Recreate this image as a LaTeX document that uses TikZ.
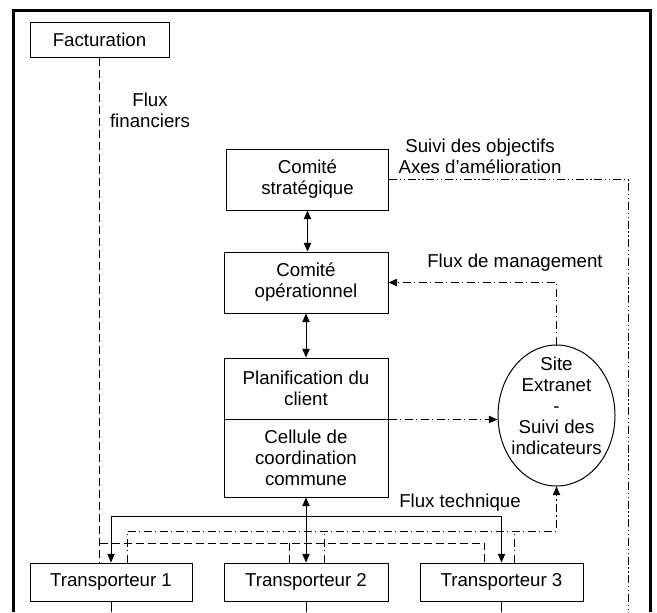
\documentclass[tikz,border=0pt]{standalone}
\usepackage{fontspec}
\setmainfont{Liberation Sans}
\usetikzlibrary{arrows.meta, shapes.geometric}

\begin{document}
\begin{tikzpicture}[x=0.75pt, y=-0.75pt, line width=0.75pt,
    font=\fontsize{14}{15.75}\selectfont,
    >={Triangle[length=6.5pt,width=5.5pt]},
    boite/.style={draw, align=center, inner sep=0pt, minimum height=45.75pt},
    transp/.style={boite, minimum height=28.5pt},
    financier/.style={dash pattern=on 6pt off 3pt},
    gestion/.style={dash pattern=on 6pt off 2.5pt on 1pt off 2.5pt},
    pilotage/.style={dash pattern=on 6pt off 2pt on 1pt off 2pt on 1pt off 2pt}]
      \useasboundingbox (0,0) rectangle (657,612);

      % Draw outer frame
      \draw[line width=2.25pt] (13,612) -- (13,10) -- (650,10) -- (650,612);

      % Boxes
      \node[boite, minimum width=104.25pt, minimum height=26.25pt] (factu) at (99.5,39.5) {Facturation};
      \node[boite, minimum width=121.5pt] (strat) at (307.5,179.5) {Comité\\stratégique};
      \node[boite, minimum width=123pt] (ope) at (306,282.5) {Comité\\opérationnel};
      \node[boite, minimum width=123pt] (planif) at (306,388.5) {Planification du\\client};
      \node[boite, minimum width=123pt, minimum height=58.5pt] (cellule) at (306,458) {Cellule de\\coordination\\commune};
      \node[transp, minimum width=121.5pt] (t1) at (111,582) {Transporteur 1};
      \node[transp, minimum width=123pt] (t2) at (306,582) {Transporteur 2};
      \node[transp, minimum width=122.25pt] (t3) at (501.5,582) {Transporteur 3};

      % Extranet ellipse
      \node[draw, ellipse, inner sep=0pt, minimum width=87.75pt, minimum height=105.75pt] (extranet) at (556.5,415.5) {};
      \node[align=center] (extranettxt) at (556.5,405.5) {Site\\Extranet\\-\\Suivi des\\indicateurs};

      % Labels
      \node[align=center] (lblfin) at (150,110.5) {Flux\\financiers};
      \node[align=center] (lblobj) at (480,156) {Suivi des objectifs\\Axes d'amélioration};
      \node (lblman) at (515,263) {Flux de management};
      \node (lbltech) at (460,503) {Flux technique};

      % Helper coordinates
      \coordinate (tech) at (0,516);
      \coordinate (indic) at (0,531);
      \coordinate (fact) at (0,543);
      \coordinate (droite) at (628,612);
      \coordinate (bas) at (0,612);

      % Draw vertical double arrows
      \draw[<->] (strat.south) -- (strat.south |- ope.north);
      \draw[<->] (ope.south) -- (planif.north);
      \draw[<->] (cellule.south) -- (t2.north);

      % Draw technical flow
      \draw[<->] (t1.north) -- (t1.north |- tech) -- (t3.north |- tech) -- (t3.north);

      % Draw financial flow
      \draw[financier] (factu.south) -- (factu.south |- t1.north);
      \draw[financier] (factu.south |- fact) -- ([xshift=-13pt]t3.north |- fact) -- ([xshift=-13pt]t3.north);
      \draw[financier] ([xshift=-12.75pt]t2.north |- fact) -- ([xshift=-12.75pt]t2.north);

      % Draw management flow
      \draw[gestion, ->] (planif.south east) -- (planif.south east -| extranet.west);
      \draw[gestion, ->] (extranet.north) -- (extranet.north |- ope.east) -- (ope.east);
      \draw[gestion, ->] ([xshift=12pt]t1.north) -- ([xshift=12pt]t1.north |- indic) -- (extranet.south |- indic) -- (extranet.south);
      \draw[gestion] ([xshift=13.5pt]t2.north) -- ([xshift=13.5pt]t2.north |- indic);
      \draw[gestion] ([xshift=10pt]t3.north) -- ([xshift=10pt]t3.north |- indic);

      % Draw objectives line
      \draw[pilotage] (strat.east) -- (strat.east -| droite) -- (droite);

      % Draw lines below carriers
      \foreach \t in {t1,t2,t3}
        \draw (\t.south) -- (\t.south |- bas);
    \end{tikzpicture}
\end{document}
